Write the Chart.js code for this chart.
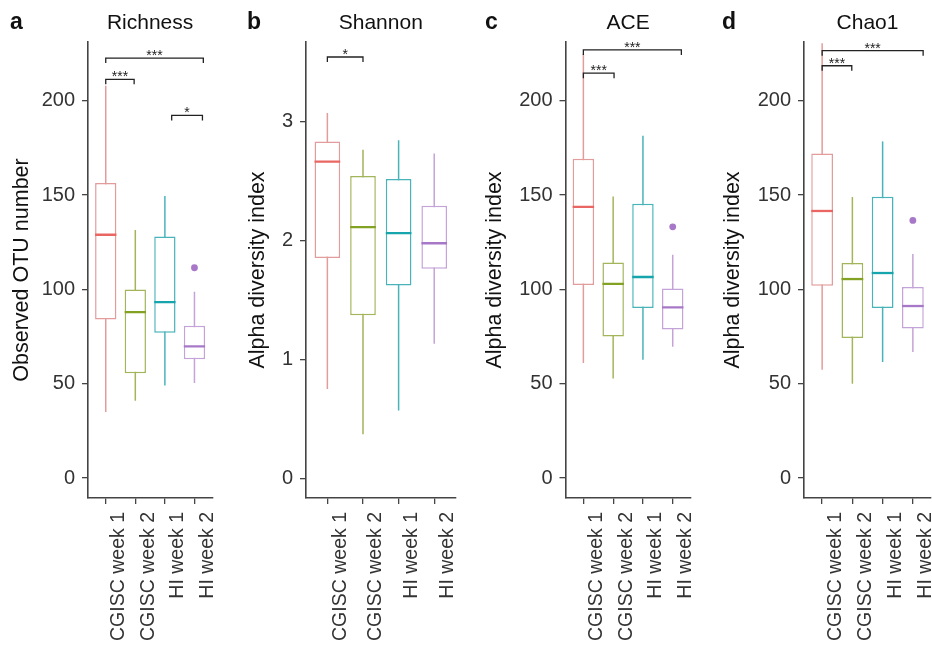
<!DOCTYPE html>
<html>
<head>
<meta charset="utf-8">
<script src="https://cdn.jsdelivr.net/npm/chart.js@4.4.1/dist/chart.umd.min.js"></script>
<style>
html, body { margin: 0; padding: 0; background: #fff; }
#wrap { position: relative; width: 932px; height: 653px; overflow: hidden; }
#wrap canvas { position: absolute; top: 0; }
</style>
</head>
<body>
<div id="wrap">
  <canvas id="panelA" width="228" height="653" style="left:0px;width:228px;height:653px"></canvas>
  <canvas id="panelB" width="240" height="653" style="left:228px;width:240px;height:653px"></canvas>
  <canvas id="panelC" width="240" height="653" style="left:468px;width:240px;height:653px"></canvas>
  <canvas id="panelD" width="240" height="653" style="left:708px;width:240px;height:653px"></canvas>
</div>
<script>
// Data -----------------------------------------------------------------------------------
const categories = ['CGISC week 1', 'CGISC week 2', 'HI week 1', 'HI week 2'];

// Richness (observed OTU number)
const richnessLow      = [35, 41, 49, 50.4];
const richnessQ1       = [84, 55.5, 77, 63];
const richnessMedian   = [129, 88, 93.3, 69.8];
const richnessQ3       = [156.4, 100, 128, 80.8];
const richnessHigh     = [208, 131.5, 149.5, 98.8];
const richnessOutliers = [[], [], [], [111.5]];
const richnessTicks    = [0, 50, 100, 150, 200];
// [from group, to group, height, label]
const richnessBrackets = [[1, 1.96, 211.4, '***'], [1, 4.3, 222.7, '***'], [3.23, 4.27, 192.3, '*']];

// Shannon
const shannonLow      = [0.75, 0.37, 0.57, 1.13];
const shannonQ1       = [1.85, 1.37, 1.62, 1.76];
const shannonMedian   = [2.66, 2.11, 2.06, 1.975];
const shannonQ3       = [2.83, 2.54, 2.515, 2.29];
const shannonHigh     = [3.07, 2.76, 2.84, 2.73];
const shannonOutliers = [[], [], [], []];
const shannonTicks    = [0, 1, 2, 3];
const shannonBrackets = [[1, 2, 3.54, '*']];

// ACE
const aceLow      = [61, 52.8, 62.7, 69.6];
const aceQ1       = [102.3, 75.1, 90.1, 78.8];
const aceMedian   = [143.8, 102.9, 106.6, 90.5];
const aceQ3       = [169.3, 114.3, 145.4, 100.5];
const aceHigh     = [225, 149.3, 181.5, 118.4];
const aceOutliers = [[], [], [], [133.2]];
const aceTicks    = [0, 50, 100, 150, 200];
const aceBrackets = [[1, 4.29, 227, '***'], [1, 2.03, 214.7, '***']];

// Chao1
const chao1Low      = [57.4, 50, 61.5, 66.8];
const chao1Q1       = [102, 74.2, 90.1, 79.3];
const chao1Median   = [141.6, 105.5, 108.7, 91.2];
const chao1Q3       = [172.1, 114, 149.2, 101.3];
const chao1High     = [230.6, 149, 178.5, 118.8];
const chao1Outliers = [[], [], [], [136.6]];
const chao1Ticks    = [0, 50, 100, 150, 200];
const chao1Brackets = [[1, 4.34, 226.6, '***'], [1, 1.98, 218.6, '***']];
// ----------------------------------------------------------------------------------------

const FONT = '"Liberation Sans", Arial, Helvetica, sans-serif';
const lineColors   = ['#e29c9c', '#a2b55a', '#48b4ba', '#c4a4d8'];
const medianColors = ['#ea6663', '#83a122', '#17a5ad', '#a878c8'];
const BOX_WIDTH = 0.72;

function halfBox(chart) {
  const xs = chart.scales.x;
  return xs.getPixelForValue(1 + BOX_WIDTH / 2) - xs.getPixelForValue(1);
}

// letters, panel titles and significance stars
const panelText = {
  id: 'panelText',
  afterDraw(chart, args, opts) {
    const { ctx, chartArea } = chart;
    const xs = chart.scales.x, ys = chart.scales.y;
    ctx.save();
    ctx.fillStyle = '#111';
    ctx.textBaseline = 'alphabetic';
    ctx.font = 'bold 23px ' + FONT;
    ctx.textAlign = 'left';
    ctx.fillText(opts.letter, opts.letterX, 29);
    ctx.font = '21px ' + FONT;
    ctx.textAlign = 'center';
    ctx.fillText(opts.title, (chartArea.left + chartArea.right) / 2, 29);
    ctx.font = '14px ' + FONT;
    ctx.fillStyle = '#222';
    chart.data.datasets.forEach(ds => {
      if (!ds.sig) return;
      const cx = xs.getPixelForValue((ds.data[1].x + ds.data[2].x) / 2);
      const cy = ys.getPixelForValue(ds.data[1].y);
      ctx.fillText(ds.sig, cx, cy + 2);
    });
    ctx.restore();
  }
};

function makePanel(id, p) {
  const xsVals = categories.map((c, i) => i + 1);
  const range = p.yMax - p.yMin;
  const drop = range * 0.011;
  const datasets = [
    { type: 'bar', order: 4, grouped: false,
      data: xsVals.map((x, i) => ({ x: x, y: [p.low[i], p.high[i]] })),
      backgroundColor: lineColors, borderWidth: 0, maxBarThickness: 1.5,
      barPercentage: 0.05, categoryPercentage: 1 },
    { type: 'bar', order: 3, grouped: false,
      data: xsVals.map((x, i) => ({ x: x, y: [p.q1[i], p.q3[i]] })),
      backgroundColor: '#ffffff', borderColor: lineColors, borderWidth: 1.5,
      borderSkipped: false, barPercentage: BOX_WIDTH, categoryPercentage: 1 },
    { type: 'scatter', order: 2,
      data: xsVals.map((x, i) => ({ x: x, y: p.median[i] })),
      pointStyle: 'line', pointBorderColor: medianColors, pointBorderWidth: 2.3,
      pointRadius: ctx => halfBox(ctx.chart) },
    { type: 'scatter', order: 1,
      data: p.outliers.flatMap((vals, i) => vals.map(v => ({ x: i + 1, y: v }))),
      pointBackgroundColor: medianColors[3], pointBorderWidth: 0, pointRadius: 3.4 }
  ];
  p.brackets.forEach(b => {
    datasets.push({
      type: 'line', order: 0, sig: b[3],
      data: [{ x: b[0], y: b[2] - drop }, { x: b[0], y: b[2] }, { x: b[1], y: b[2] }, { x: b[1], y: b[2] - drop }],
      borderColor: '#222', borderWidth: 1.3, pointRadius: 0, fill: false, tension: 0
    });
  });

  return new Chart(document.getElementById(id), {
    type: 'bar',
    data: { datasets: datasets },
    options: {
      responsive: false,
      animation: false,
      events: [],
      layout: { padding: { left: 0, right: p.padRight, top: 42, bottom: 0 } },
      plugins: {
        legend: { display: false },
        tooltip: { enabled: false },
        panelText: { letter: p.letter, letterX: p.letterX, title: p.title }
      },
      scales: {
        x: {
          type: 'linear', min: 0.4, max: 4.6, offset: false,
          afterBuildTicks: s => { s.ticks = xsVals.map(v => ({ value: v })); },
          afterFit: s => { s.height = 155; },
          border: { display: true, color: '#444', width: 1.6 },
          grid: { offset: false, drawOnChartArea: false, drawTicks: true, tickLength: 6, color: '#444', lineWidth: 1.3 },
          ticks: {
            autoSkip: false, minRotation: 90, maxRotation: 90, labelOffset: 13, padding: 8,
            color: '#333', font: { family: FONT, size: 19.5 },
            callback: v => categories[v - 1]
          }
        },
        y: {
          type: 'linear', min: p.yMin, max: p.yMax,
          afterBuildTicks: s => { s.ticks = p.ticks.map(v => ({ value: v })); },
          afterFit: s => { s.width = p.yWidth; },
          border: { display: true, color: '#444', width: 1.6 },
          grid: { drawOnChartArea: false, drawTicks: true, tickLength: 6, color: '#444', lineWidth: 1.3 },
          ticks: { color: '#333', font: { family: FONT, size: 20 }, padding: 7 },
          title: {
            display: true, text: p.yTitle, color: '#111',
            font: { family: FONT, size: 21.5 }, padding: { top: p.titlePad, bottom: 0 }
          }
        }
      }
    },
    plugins: [panelText]
  });
}

const richnessChart = makePanel('panelA', {
  letter: 'a', letterX: 10, title: 'Richness', yTitle: 'Observed OTU number',
  low: richnessLow, q1: richnessQ1, median: richnessMedian, q3: richnessQ3, high: richnessHigh,
  outliers: richnessOutliers, ticks: richnessTicks, brackets: richnessBrackets,
  yMin: -10.6, yMax: 231.2, yWidth: 88, padRight: 15, titlePad: 9
});
const shannonChart = makePanel('panelB', {
  letter: 'b', letterX: 19, title: 'Shannon', yTitle: 'Alpha diversity index',
  low: shannonLow, q1: shannonQ1, median: shannonMedian, q3: shannonQ3, high: shannonHigh,
  outliers: shannonOutliers, ticks: shannonTicks, brackets: shannonBrackets,
  yMin: -0.166, yMax: 3.666, yWidth: 78, padRight: 12.4, titlePad: 17
});
const aceChart = makePanel('panelC', {
  letter: 'c', letterX: 17, title: 'ACE', yTitle: 'Alpha diversity index',
  low: aceLow, q1: aceQ1, median: aceMedian, q3: aceQ3, high: aceHigh,
  outliers: aceOutliers, ticks: aceTicks, brackets: aceBrackets,
  yMin: -10.6, yMax: 231.2, yWidth: 97.5, padRight: 17.4, titlePad: 14
});
const chao1Chart = makePanel('panelD', {
  letter: 'd', letterX: 14, title: 'Chao1', yTitle: 'Alpha diversity index',
  low: chao1Low, q1: chao1Q1, median: chao1Median, q3: chao1Q3, high: chao1High,
  outliers: chao1Outliers, ticks: chao1Ticks, brackets: chao1Brackets,
  yMin: -10.6, yMax: 231.2, yWidth: 96, padRight: 17, titlePad: 12
});
</script>
</body>
</html>
